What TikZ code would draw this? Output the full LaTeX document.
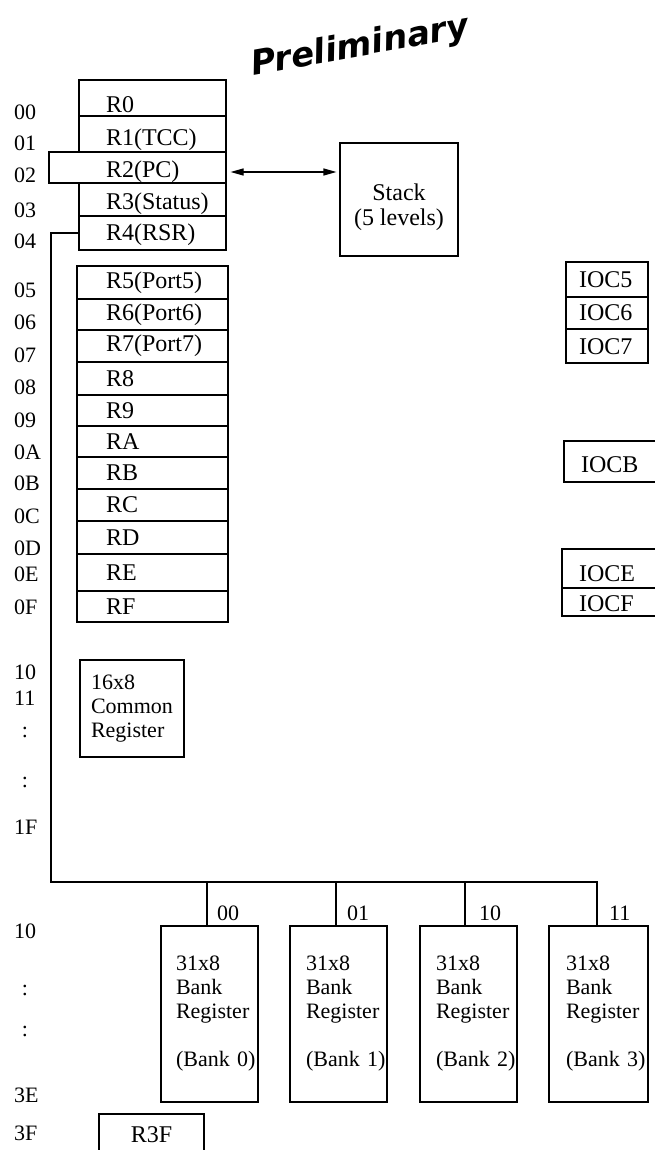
\documentclass[tikz,border=0pt]{standalone}
\usepackage{fontspec}
\setmainfont{Liberation Serif}
\newfontfamily\prelimfont{DejaVu Sans}
\usetikzlibrary{arrows.meta,calc}
\newcommand{\regfont}{\fontsize{24}{25}\selectfont}
\newcommand{\smallfont}{\fontsize{22}{24}\selectfont}
\newcommand{\upby}[1]{\rule{0pt}{#1}}
\begin{document}
\begin{tikzpicture}[x=1pt,y=-1pt,
  reg/.style={draw, line width=1.2pt, rectangle, inner xsep=0pt, inner ysep=0pt, align=left, font=\regfont},
  bank/.style={reg, font=\smallfont},
  plain/.style={draw, line width=1.2pt, rectangle, inner sep=0pt, align=center, font=\regfont},
  addr/.style={anchor=west, inner sep=0pt, font=\smallfont},
  colon/.style={anchor=center, inner sep=0pt, font=\smallfont},
  wire/.style={line width=1.2pt},
  dbl/.style={line width=1.2pt, {Triangle[length=13pt,width=7pt]}-{Triangle[length=13pt,width=7pt]}},
  prelim/.style={rotate=10, inner sep=0pt, font=\prelimfont\bfseries\itshape\fontsize{34}{34}\selectfont}
]
\useasboundingbox (0,0) rectangle (654,1150);
\fill[white] (0,0) rectangle (654,1150);

\node[prelim] (prelim) at (360,47) {Preliminary};

% top register block
\node[reg, minimum width=147pt, minimum height=36pt, text width=93pt] (r0) at (152.5,98) {\upby{30pt}R0};
\node[reg, minimum width=147pt, minimum height=36pt, text width=93pt] (r1) at (152.5,134) {\upby{28pt}R1(TCC)};
\node[reg, minimum width=147pt, minimum height=33pt, text width=93pt] (r3) at (152.5,199.5) {\upby{25pt}R3(Status)};
\node[reg, minimum width=147pt, minimum height=34pt, text width=93pt] (r4) at (152.5,233) {\upby{20pt}R4(RSR)};
\node[reg, minimum width=177pt, minimum height=31pt, text width=63pt] (r2) at (137.5,167.5) {\upby{25pt}R2(PC)};

% stack
\node[plain, minimum width=118pt, minimum height=113pt] (stack) at (399,199.5) {\upby{32pt}Stack\\(5 levels)};
\draw[dbl] ($(r2.east)+(4,4.5)$) -- ($(stack.west |- r2.east)+(-3,4.5)$);

% second register block
\foreach \nm/\txt/\cy/\h in {r5/R5(Port5)/282.5/33, r6/R6(Port6)/314.5/31, r7/R7(Port7)/346/32,
  r8/R8/378.5/33, r9/R9/410.5/31, ra/RA/441.5/31, rb/RB/473/32, rc/RC/505/32,
  rd/RD/537.5/33, re/RE/572.5/37, rf/RF/606.5/31}{
  \node[reg, minimum width=151pt, minimum height=\h pt, text width=93pt] (\nm) at (152.5,\cy) {\txt};
}

% IOC registers
\node[reg, minimum width=82pt, minimum height=35pt, text width=56pt] (ioc5) at (607,279.5) {IOC5};
\node[reg, minimum width=82pt, minimum height=32pt, text width=56pt] (ioc6) at (607,313) {IOC6};
\node[reg, minimum width=82pt, minimum height=34pt, text width=56pt] (ioc7) at (607,346) {\upby{18pt}IOC7};
\node[reg, minimum width=106pt, minimum height=41pt, text width=72pt] (iocb) at (617,461.5) {\upby{23pt}IOCB};
\node[reg, minimum width=108pt, minimum height=39pt, text width=74pt] (ioce) at (616,568.5) {\upby{27pt}IOCE};
\node[reg, minimum width=108pt, minimum height=28pt, text width=74pt] (iocf) at (616,602) {\upby{20pt}IOCF};

% common register
\node[bank, minimum width=104pt, minimum height=97pt, text width=82pt] (common) at (132,708.5) {16x8\\Common\\Register};

% bank registers
\node[bank, minimum width=97pt, minimum height=176pt, text width=67pt] (b0) at (209.5,1014) {31x8\\Bank\\Register\\[24pt](Bank~0)};
\node[bank, minimum width=97pt, minimum height=176pt, text width=65pt] (b1) at (338.5,1014) {31x8\\Bank\\Register\\[24pt](Bank~1)};
\node[bank, minimum width=97pt, minimum height=176pt, text width=65pt] (b2) at (468.5,1014) {31x8\\Bank\\Register\\[24pt](Bank~2)};
\node[bank, minimum width=99pt, minimum height=176pt, text width=65pt] (b3) at (598.5,1014) {31x8\\Bank\\Register\\[24pt](Bank~3)};

\node[plain, minimum width=105pt, minimum height=41pt] (r3f) at (151.5,1134.5) {R3F};

% bus
\coordinate (busL) at (51,882);
\coordinate (d0) at (207,882);
\coordinate (d1) at (336,882);
\coordinate (d2) at (465,882);
\coordinate (d3) at (597,882);
\draw[wire] (r4.west) -| (busL) -- (d3) -- (d3 |- b3.north);
\draw[wire] (d0) -- (d0 |- b0.north);
\draw[wire] (d1) -- (d1 |- b1.north);
\draw[wire] (d2) -- (d2 |- b2.north);

\node[addr] (s0) at ($(d0)+(10,31)$) {00};
\node[addr] (s1) at ($(d1)+(11,31)$) {01};
\node[addr] (s2) at ($(d2)+(14,31)$) {10};
\node[addr] (s3) at ($(d3)+(12,31)$) {11};

% address column
\foreach \t/\y/\n in {00/112/a0, 01/143/a1, 02/175/a2, 03/210/a3, 04/241/a4, 05/290/a5,
  06/322/a6, 07/355/a7, 08/387/a8, 09/420/a9, 0A/452/aa, 0B/483/ab, 0C/516/ac, 0D/548/ad,
  0E/574/ae, 0F/607/af, 10/672/b10, 11/698/b11, 1F/827/b1f, 10/931/c10, 3E/1095/c3e, 3F/1133/c3f}{
  \node[addr] (lab\n) at (14,\y) {\t};
}
\foreach \y/\n in {732/k1, 782/k2, 990/k3, 1031/k4}{
  \node[colon] (col\n) at (25,\y) {:};
}
\end{tikzpicture}
\end{document}
